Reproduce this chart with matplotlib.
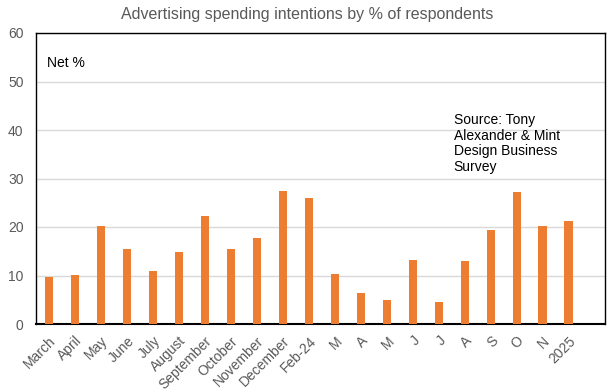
import matplotlib
matplotlib.use("Agg")
import matplotlib.pyplot as plt

categories = ["March", "April", "May", "June", "July", "August", "September",
              "October", "November", "December", "Feb-24", "M", "A", "M", "J",
              "J", "A", "S", "O", "N", "2025"]
values = [9.7, 10.1, 20.3, 15.5, 10.9, 14.8, 22.3, 15.5, 17.7, 27.4, 26.0,
          10.4, 6.4, 4.9, 13.1, 4.5, 12.9, 19.3, 27.3, 20.2, 21.3]
yticks = [0, 10, 20, 30, 40, 50, 60]

plt.rcParams['font.family'] = ['Liberation Sans', 'DejaVu Sans']

fig = plt.figure(figsize=(6.14, 3.92), dpi=100)
ax = fig.add_axes([36/614, 1-324/392, (605-36)/614, (324-33)/392])

x = list(range(len(categories)))
ax.bar(x, values, width=0.32, color='#ED7D31', zorder=3)

ax.set_ylim(0, 60)
ax.set_xlim(-0.5, 21.4)
ax.set_yticks(yticks)
ax.grid(axis='y', color='#D9D9D9', linewidth=1, zorder=0)
ax.set_axisbelow(True)
ax.tick_params(axis='y', length=0, labelsize=10, labelcolor='#595959', pad=9)
ax.set_xticks(x)
ax.set_xticklabels(categories, rotation=45, ha='right', rotation_mode='anchor',
                   fontsize=10, color='#595959')
ax.tick_params(axis='x', length=0, pad=7)
for s in ax.spines.values():
    s.set_color('#000000')
    s.set_linewidth(1)
ax.spines['bottom'].set_linewidth(1.5)

fig.text(0.5, 1-14/392, "Advertising spending intentions by % of respondents",
         ha='center', va='center', fontsize=11.5, color='#595959')
fig.text(47/614, 1-63/392, "Net %", ha='left', va='center', fontsize=10,
         color='#000000')
ax.text(0.734, 0.725, "Source: Tony\nAlexander & Mint\nDesign Business\nSurvey",
        transform=ax.transAxes, ha='left', va='top', fontsize=10,
        color='#000000', linespacing=1.15)

fig.savefig("out.png", dpi=100)
